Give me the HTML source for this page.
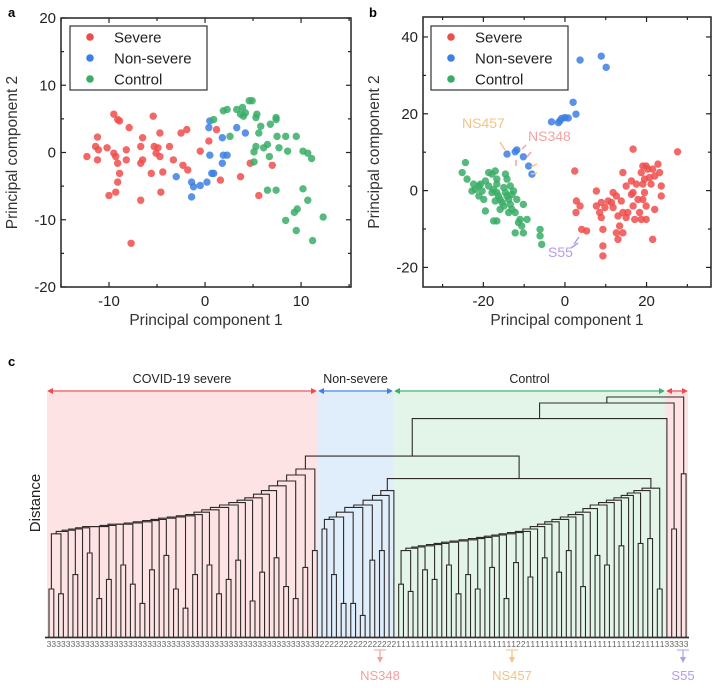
<!DOCTYPE html>
<html><head><meta charset="utf-8"><style>
html,body{margin:0;padding:0;background:#fff;}
svg{display:block;font-family:"Liberation Sans",Arial,sans-serif;}
</style></head><body>
<svg id="fig" width="719" height="688" viewBox="0 0 719 688" xmlns="http://www.w3.org/2000/svg">
<text x="8" y="17" font-size="13" font-weight="bold">a</text>
<text x="369" y="17" font-size="13" font-weight="bold">b</text>
<text x="8" y="366" font-size="13" font-weight="bold">c</text>
<g id="pa"></g>
<g id="pb"></g>
<g id="pc"></g>
</svg>
<script>
// ---------- Panel a data ----------
const aSevereX=[-12.3,-11.4,-11.2,-11.1,-11.2,-10.2,-9.5,-9.1,-8.9,-9.5,-9.3,-9.1,-8.9,-9.1,-9.3,-10.0,-8.2,-7.9,-8.2,-6.7,-6.5,-6.5,-6.7,-6.7,-5.6,-5.4,-5.3,-5.1,-4.9,-4.7,-4.7,-4.6,-4.4,-3.7,-3.3,-2.5,-1.9,-2.3,-1.8,-0.5,0.4,1.2,1.6,3.7,4.7,5.6,7.0,-7.7];
const aSevereY=[-0.6,0.9,2.3,0.4,-1.1,0.7,5.7,4.9,4.7,-0.1,-0.6,-1.6,-3.1,-4.4,-5.9,-6.4,0.4,3.7,-1.1,0.9,2.2,-1.1,-1.6,-7.1,-3.1,5.4,0.9,-0.1,0.7,2.9,-0.6,-5.9,-2.9,0.9,-1.1,2.9,3.4,-1.9,-2.6,0.2,1.7,3.4,-4.1,-3.6,-1.6,-6.4,-1.9,-13.5];
const aNonX=[-3.0,-1.4,-1.2,-1.4,-0.5,0.2,0.5,0.7,0.9,0.4,0.5,1.8,1.8,1.9,2.3,3.3,4.2];
const aNonY=[-3.6,-4.4,-5.1,-6.6,-4.9,-4.4,-0.4,-3.1,-3.1,3.7,4.7,2.2,-1.6,-0.4,-0.4,3.7,2.9];
const aCtrlX=[0.9,1.9,2.3,2.6,3.3,3.7,3.9,4.0,4.2,4.6,4.9,5.3,5.4,5.6,5.1,5.1,5.3,5.8,6.1,6.5,6.7,6.8,7.4,7.4,7.5,7.7,8.4,8.6,9.5,10.2,10.7,11.1,10.2,7.4,6.5,8.4,9.3,9.6,9.5,10.7,11.2,12.3];
const aCtrlY=[4.9,6.2,6.4,2.4,6.4,5.7,6.7,5.4,5.9,7.7,7.7,5.2,5.7,2.9,0.1,-1.4,0.9,3.9,0.7,1.2,-0.6,4.2,4.9,5.2,2.4,0.7,2.4,0.2,2.4,0.2,-0.1,-0.9,-5.4,-5.6,-5.6,-10.1,-8.9,-8.4,-11.6,-7.1,-13.1,-9.6];
const aXTicks=[-10,0,10], aYTicks=[-20,-10,0,10,20];
// ---------- Panel b data ----------
const bSevereX=[2.4,2.8,2.7,3.7,4.1,5.3,7.7,7.7,8.5,8.9,9.3,9.3,8.9,9.8,10.6,11.4,11.8,11.8,13.0,13.4,13.0,12.6,13.8,14.2,14.2,15.0,15.4,16.3,16.3,16.7,17.1,17.5,17.9,18.3,18.7,18.7,19.1,19.5,19.5,19.9,19.9,19.1,19.9,20.3,20.7,21.1,21.5,22.0,22.0,22.8,23.2,23.6,23.6,16.7,21.5,27.6,14.2,15.0,16.7,12.6,19.1,9.3];
const bSevereY=[5.1,-2.7,-5.7,-4.0,-10.1,-10.5,-0.1,-4.0,-5.7,-7.0,-10.1,-14.4,-3.1,-4.4,-2.7,-3.1,-0.5,-4.4,-6.6,-9.2,-12.7,-1.4,-2.7,-5.7,-11.0,-7.0,-5.7,2.5,-1.0,-4.0,-7.5,1.7,-2.3,-5.7,-7.5,4.7,1.7,-0.5,3.0,-4.0,-7.5,6.4,6.4,5.6,3.4,1.7,5.6,3.8,-4.9,6.9,4.7,1.2,-1.4,10.8,-12.7,10.1,4.7,1.2,-0.5,-11.0,-2.3,-17.0];
const bNonX=[3.7,8.9,10.1,2.0,2.7,-1.2,-1.6,-0.8,0.0,0.8,-3.3,-14.2,-11.8,-12.2,-10.2,-8.9,-8.1];
const bNonY=[34.0,35.0,32.1,23.0,19.9,18.2,17.7,18.8,19.0,18.9,17.9,9.5,10.6,10.1,8.8,6.4,4.3];
const bCtrlX=[-24.4,-25.2,-24.0,-22.4,-21.1,-22.0,-22.8,-21.1,-19.9,-20.3,-20.7,-19.5,-18.7,-17.9,-17.1,-16.7,-16.7,-17.5,-16.7,-16.3,-17.1,-15.9,-15.4,-15.0,-15.9,-14.6,-14.2,-13.8,-15.0,-13.4,-13.0,-13.4,-13.0,-13.8,-14.6,-14.2,-12.6,-11.8,-12.2,-11.0,-10.6,-10.2,-12.2,-11.4,-10.2,-9.3,-6.1,-6.1,-5.7,-16.7,-17.5,-19.5,-18.7,-17.9];
const bCtrlY=[7.3,4.7,3.0,1.7,1.2,0.3,-0.1,-1.4,-2.3,-0.1,1.7,-5.3,4.7,4.3,5.1,3.0,1.7,0.3,-0.5,-1.4,-2.7,-2.3,-3.1,-4.0,-4.9,-0.5,-1.4,-2.3,0.8,1.2,-1.0,-3.6,-4.9,-5.7,4.3,3.0,-0.1,-2.3,-5.7,-7.5,-9.2,-11.0,-11.0,-8.3,-3.6,-7.5,-10.1,-11.8,-14.0,-7.9,-7.9,2.5,1.2,-0.5];
const bXTicks=[-20,0,20], bYTicks=[-20,0,20,40];
// ---------- Panel c (dendrogram) data ----------
const severePairH=[2.0,1.8,0,2.6,0,3.5,1.6,2.4,0,3.0,2.2,1.4,2.8,0,3.4,2.0,1.2,2.6,0,3.0,1.8,2.4,3.2,0,1.5,2.7,0,3.3,2.1,1.6,2.9,3.6];
const severeChainH=[4.3,4.4,4.45,4.5,4.55,4.6,4.6,4.65,4.7,4.7,4.75,4.8,4.85,4.9,4.95,5.0,5.05,5.1,5.2,5.3,5.4,5.5,5.6,5.7,5.8,5.95,6.1,6.3,6.5,6.75,7.0];
const nonPairH=[4.5,2.6,1.4,1.4,0.9,3.2,3.6,0,0];
const nonChainH=[4.9,5.0,5.2,5.4,5.5,5.7,5.9,6.1];
const ctrlPairH=[2.2,1.9,0,2.8,2.4,0,3.0,1.8,2.6,2.0,0,2.9,0,1.6,3.1,0,2.5,0,3.3,0,2.7,3.6,0,2.1,0,3.4,3.0,0,3.8,0,0,3.9,4.1,2.0];
const ctrlChainH=[3.6,3.7,3.75,3.8,3.85,3.9,3.95,4.0,4.05,4.1,4.15,4.2,4.25,4.3,4.35,4.4,4.5,4.6,4.7,4.8,4.9,5.0,5.1,5.2,5.35,5.5,5.6,5.7,5.8,5.9,6.0,6.1,6.2];
const topH=[6.6,7.54,9.1,4.5,9.75,6.8,10.0]; // NC, Z, Y, P1, X, P2, root
const ctrl2Leaves=[25,26,50];

const NS='http://www.w3.org/2000/svg';
function mk(parent,tag,attrs){const e=document.createElementNS(NS,tag);for(const k in attrs)e.setAttribute(k,attrs[k]);parent.appendChild(e);return e;}
const COL={s:'#ef4d4c',n:'#3d7fe3',c:'#38ad66'};

function scatter(g,cfg){
  const sx=v=>cfg.x0+(v-cfg.xmin)/(cfg.xmax-cfg.xmin)*(cfg.x1-cfg.x0);
  const sy=v=>cfg.y1-(v-cfg.ymin)/(cfg.ymax-cfg.ymin)*(cfg.y1-cfg.y0);
  const frame=mk(g,'rect',{x:cfg.x0,y:cfg.y0,width:cfg.x1-cfg.x0,height:cfg.y1-cfg.y0,fill:'none',stroke:'#222','stroke-width':1.5});
  
  
  const series=[[cfg.sx,cfg.sy,COL.s,'severe'],[cfg.nx,cfg.ny,COL.n,'non-severe'],[cfg.cx,cfg.cy,COL.c,'control']];
  series.forEach(([xs,ys,c,nm])=>{
    const sg=mk(g,'g',{});
    
    
    xs.forEach((v,i)=>{const p=mk(sg,'circle',{cx:sx(v),cy:sy(ys[i]),r:3.7,fill:c,'fill-opacity':0.85});
      
      });
  });
  const step=cfg.xt[1]-cfg.xt[0];
  for(let v=cfg.xt[0]-step;v<=cfg.xmax;v+=step/2){ if(v<cfg.xmin)continue;
    const major=cfg.xt.includes(v);const L=major?5:3;const X=sx(v);
    mk(g,'line',{x1:X,y1:cfg.y1,x2:X,y2:cfg.y1-L,stroke:'#222','stroke-width':1.2});
    mk(g,'line',{x1:X,y1:cfg.y0,x2:X,y2:cfg.y0+L,stroke:'#222','stroke-width':1.2});
  }
  cfg.xt.forEach(v=>{const t=mk(g,'text',{x:sx(v),y:cfg.y1+19,'font-size':15,'text-anchor':'middle',fill:'#222'});t.textContent=v;
    
    });
  const ys=cfg.yt[1]-cfg.yt[0];
  for(let v=cfg.yt[0]-ys;v<=cfg.ymax;v+=ys/2){ if(v<cfg.ymin)continue;
    const major=cfg.yt.includes(v);const L=major?5:3;const Y=sy(v);
    mk(g,'line',{x1:cfg.x0,y1:Y,x2:cfg.x0+L,y2:Y,stroke:'#222','stroke-width':1.2});
    mk(g,'line',{x1:cfg.x1,y1:Y,x2:cfg.x1-L,y2:Y,stroke:'#222','stroke-width':1.2});
  }
  cfg.yt.forEach(v=>{const t=mk(g,'text',{x:cfg.x0-5,y:sy(v)+5,'font-size':15,'text-anchor':'end',fill:'#222'});t.textContent=v;
    
    });
  const xl=mk(g,'text',{x:(cfg.x0+cfg.x1)/2,y:cfg.y1+38,'font-size':15.5,'text-anchor':'middle',fill:'#333'});xl.textContent='Principal component 1';
  
  
  const yx=cfg.x0-44, yy=(cfg.y0+cfg.y1)/2;
  const yl=mk(g,'text',{x:yx,y:yy,'font-size':15.5,'text-anchor':'middle',fill:'#333',transform:`rotate(-90 ${yx} ${yy})`});yl.textContent='Principal component 2';
  
  
  const lg=mk(g,'g',{});
  
  
  mk(lg,'rect',{x:cfg.lx,y:26,width:137,height:64,fill:'#fff',stroke:'#333','stroke-width':1.2});
  [['Severe',COL.s],['Non-severe',COL.n],['Control',COL.c]].forEach(([n,c],i)=>{
    const e=mk(lg,'g',{});
    
    
    mk(e,'circle',{cx:cfg.lx+20,cy:37+i*21,r:3.8,fill:c});
    const t=mk(e,'text',{x:cfg.lx+44,y:42.5+i*21,'font-size':15,fill:'#222'});t.textContent=n;
  });
}
scatter(document.getElementById('pa'),{x0:61,x1:351,y0:18,y1:287,xmin:-15,xmax:15.2,ymin:-20,ymax:20,
  sx:aSevereX,sy:aSevereY,nx:aNonX,ny:aNonY,cx:aCtrlX,cy:aCtrlY,xt:aXTicks,yt:aYTicks,lx:70});
scatter(document.getElementById('pb'),{x0:423,x1:711,y0:17,y1:287,xmin:-34.8,xmax:35.8,ymin:-25.1,ymax:45.2,
  sx:bSevereX,sy:bSevereY,nx:bNonX,ny:bNonY,cx:bCtrlX,cy:bCtrlY,xt:bXTicks,yt:bYTicks,lx:431});
(function(){
  const g=document.getElementById('pb');
  const ann=[['NS457',462,128,'#f5c386','annotation-ns457'],['NS348',528,141,'#f3a3a3','annotation-ns348'],['S55',548,257,'#b59cea','annotation-s55']];
  ann.forEach(([s,x,y,c,n])=>{const t=mk(g,'text',{x:x,y:y,'font-size':14,fill:c});t.textContent=s;
    
    });
  const arr=[[500,142,505,150,'#f5c386'],[537,164,531,167,'#f5c386'],[537,173,531,174,'#f5c386'],[526,145,522,149,'#f3a3a3'],[531,152,527,157,'#f3a3a3'],[516,166,516,160,'#f3a3a3'],[574,244,579,237,'#b59cea'],[571,248,578,243,'#b59cea']];
  arr.forEach(a=>{mk(g,'line',{x1:a[0],y1:a[1],x2:a[2],y2:a[3],stroke:a[4],'stroke-width':1.5});});
})();

(function(){
  const g=document.getElementById('pc');
  const base=637, unit=24, x0=49, dx=4.79;
  const yOf=h=>base-h*unit;
  [[47,317,'#fde3e3','shade-severe'],[317,393,'#e0edfa','shade-non-severe'],[393,665,'#e3f5e8','shade-control'],[665,688,'#fde3e3','shade-severe-outlier']].forEach(([a,b,c,n])=>{
    const r=mk(g,'rect',{x:a,y:392,width:b-a,height:base-392,fill:c});
    
    });
  [[47,317,'#ee4d4f','COVID-19 severe','arrow-severe'],[318,393,'#3e7fe0','Non-severe','arrow-non-severe'],[394,665,'#3ab26b','Control','arrow-control'],[666,688,'#ee4d4f','','arrow-severe-outlier']].forEach(([a,b,c,s,n])=>{
    const ag=mk(g,'g',{});
    
    
    mk(ag,'line',{x1:a+3,y1:391,x2:b-3,y2:391,stroke:c,'stroke-width':1.3});
    mk(ag,'path',{d:`M${a} 391 L${a+6} 388 L${a+6} 394 Z`,fill:c});
    mk(ag,'path',{d:`M${b} 391 L${b-6} 388 L${b-6} 394 Z`,fill:c});
    if(s){const t=mk(ag,'text',{x:(a+b)/2,y:383,'font-size':12.5,'text-anchor':'middle',fill:'#222'});t.textContent=s;}
  });
  const dl=mk(g,'text',{x:40,y:503,'font-size':15,'text-anchor':'middle',fill:'#222',transform:'rotate(-90 40 503)'});dl.textContent='Distance';
  
  
  const leaves=[];
  function leaf(gr){const l={leaf:true,g:gr};leaves.push(l);return l;}
  function units(pairH,gr){return pairH.map(h=>h>0?{h:h,c:[leaf(gr),leaf(gr)]}:leaf(gr));}
  function cat(us,ch){let n=us[0];for(let i=1;i<us.length;i++){const h=ch[i-1]!==undefined?ch[i-1]:ch[ch.length-1]+0.1*i;n={h:h,c:[n,us[i]]};}return n;}
  const sev=cat(units(severePairH,'3'),severeChainH);
  const non=cat(units(nonPairH,'2'),nonChainH);
  const ctrlStart=leaves.length;
  const ctl=cat(units(ctrlPairH,'1'),ctrlChainH);
  ctrl2Leaves.forEach(i=>{if(leaves[ctrlStart+i])leaves[ctrlStart+i].g='2';});
  const NC={h:topH[0],c:[non,ctl]};
  const Z={h:topH[1],c:[sev,NC]};
  const Y={h:topH[2],c:[Z,leaf('3')]};
  const P1={h:topH[3],c:[leaf('3'),leaf('3')]};
  const X={h:topH[4],c:[Y,P1]};
  const P2={h:topH[5],c:[leaf('3'),leaf('3')]};
  const root={h:topH[6],c:[X,P2]};
  leaves.forEach((l,i)=>{l.x=x0+i*dx;l.y=base;});
  function lay(n){if(n.leaf)return n.x;n.x=(lay(n.c[0])+lay(n.c[1]))/2;n.y=yOf(n.h);return n.x;}
  lay(root);
  const tg=mk(g,'g',{stroke:'#2e2a2a','stroke-width':1.1,fill:'none'});
  
  
  function draw(n){if(n.leaf)return;
    const [a,b]=n.c;
    mk(tg,'path',{d:`M${a.x} ${a.y} V${n.y} H${b.x} V${b.y}`});
    draw(a);draw(b);}
  draw(root);
  mk(g,'line',{x1:45,y1:base+0.5,x2:689,y2:base+0.5,stroke:'#333','stroke-width':1.8});
  const lab=mk(g,'g',{'font-size':8.5,fill:'#666','text-anchor':'middle'});
  
  
  leaves.forEach(l=>{const t=mk(lab,'text',{x:l.x,y:647});t.textContent=l.g;});
  [['NS348',380,'#f3a0a0'],['NS457',512,'#f5c386'],['S55',683,'#b59cea']].forEach(([s,x,c])=>{
    const cg=mk(g,'g',{});
    
    
    mk(cg,'line',{x1:x-6,y1:650,x2:x+6,y2:650,stroke:c,'stroke-width':1});
    mk(cg,'line',{x1:x,y1:650,x2:x,y2:660,stroke:c,'stroke-width':1.2});
    mk(cg,'path',{d:`M${x-3} 657 L${x+3} 657 L${x} 663 Z`,fill:c});
    const t=mk(cg,'text',{x:x,y:680,'font-size':13,'text-anchor':'middle',fill:c});t.textContent=s;
  });
})();
</script>
</body></html>
